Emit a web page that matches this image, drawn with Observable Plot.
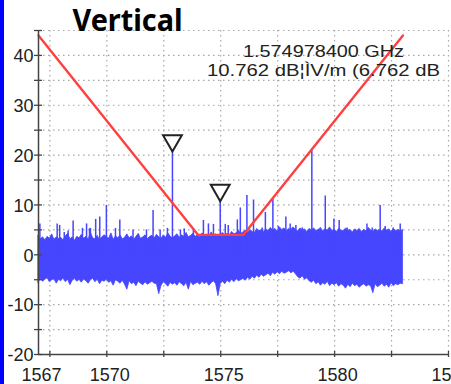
<!DOCTYPE html>
<html><head><meta charset="utf-8">
<script src="https://cdn.jsdelivr.net/npm/d3@7"></script>
<script src="https://cdn.jsdelivr.net/npm/@observablehq/plot@0.6"></script>
<style>
html,body{margin:0;padding:0;background:#fff;}
#wrap{position:relative;width:451px;height:384px;overflow:hidden;}
#strip{position:absolute;left:0;top:0;width:4px;height:384px;background:#0000ff;z-index:2;}
</style></head><body><div id="wrap"><div id="strip"></div></div>
<script>
const title = "Vertical";
const noteLines = ["1.574978400 GHz", "10.762 dB¦ÌV/m (6.762 dB"];

// noise envelope, sampled every 0.1 MHz from 1567.0 to 1583.0
const envStart = 1567, envStep = 0.1;
const upperEnv = [
 3.8,3.1,3.5,2.9,3.6,3.2,4.1,3.0,3.5,3.2,
 3.4,2.9,3.7,4.2,3.1,3.5,2.8,3.6,3.3,4.0,
 3.2,3.6,3.0,4.4,3.3,3.1,3.8,2.9,3.5,3.9,
 3.6,3.2,4.3,3.0,3.7,3.3,3.9,3.1,3.4,4.1,
 3.3,3.7,3.0,3.6,4.2,3.2,3.5,3.9,3.1,3.6,
 3.8,3.3,4.0,3.5,3.2,3.9,3.4,4.3,3.6,3.3,
 3.7,4.1,3.4,3.9,3.6,4.4,3.5,3.8,4.2,3.6,
 3.9,3.5,4.3,3.7,4.0,3.6,4.5,3.8,4.1,3.7,
 4.0,4.4,3.8,4.2,3.9,4.6,4.1,4.3,4.8,4.2,
 4.5,4.9,4.3,5.0,4.6,4.4,5.2,4.7,5.0,4.6,
 5.1,4.8,5.4,4.9,5.2,4.7,5.5,5.0,5.3,4.8,
 5.2,4.9,5.5,5.0,4.7,5.3,4.9,5.1,4.6,5.2,
 4.9,5.3,4.8,5.0,5.4,4.7,5.1,4.9,5.5,4.8,
 5.0,4.6,5.2,4.9,4.7,5.3,4.8,5.0,4.5,5.1,
 4.8,5.2,4.6,5.0,4.7,5.4,4.9,4.6,5.1,4.8,
 5.0,4.7,5.3,4.9,5.1,4.6,5.2,4.8,5.0,4.7,
 5.0];
const lowerEnv = [
 -5.6,-4.8,-5.4,-5.0,-4.7,-5.5,-5.1,-4.9,-5.8,-5.0,
 -5.3,-4.7,-5.5,-5.0,-6.1,-5.2,-4.8,-5.4,-5.0,-5.6,
 -4.9,-5.3,-5.8,-5.1,-4.8,-5.5,-5.0,-5.9,-5.2,-5.4,
 -5.0,-5.6,-5.3,-6.2,-5.1,-5.4,-5.8,-5.2,-6.0,-7.0,
 -5.3,-5.9,-5.6,-6.3,-5.4,-5.8,-6.1,-5.5,-6.0,-5.7,
 -5.4,-5.8,-5.9,-7.9,-6.2,-5.5,-5.9,-6.4,-5.6,-6.0,
 -5.7,-6.2,-5.5,-5.9,-6.3,-5.6,-7.0,-5.4,-6.1,-5.8,
 -5.6,-6.0,-5.4,-5.9,-5.5,-6.2,-5.7,-5.3,-5.9,-8.3,
 -5.8,-5.4,-5.9,-5.2,-5.6,-5.0,-5.5,-4.9,-5.3,-5.1,
 -4.8,-5.2,-4.6,-5.0,-4.4,-4.8,-4.2,-4.6,-4.0,-4.4,
 -4.1,-3.8,-4.3,-3.6,-4.0,-3.5,-3.9,-3.4,-3.8,-3.6,
 -3.3,-3.7,-3.4,-3.9,-4.5,-4.8,-4.3,-5.0,-4.7,-5.3,
 -5.6,-5.2,-5.9,-5.5,-6.2,-5.7,-6.0,-5.4,-6.3,-5.8,
 -6.1,-5.7,-6.4,-5.9,-6.2,-6.8,-6.0,-6.5,-5.8,-6.3,
 -6.0,-6.6,-6.2,-5.9,-6.4,-6.1,-6.3,-7.7,-5.9,-6.5,
 -6.2,-5.8,-6.4,-6.0,-6.6,-5.7,-6.3,-5.9,-6.1,-5.8,
 -5.9];

// narrow spikes above the noise floor
const spikeFreq  = [1567.06,1567.82,1567.93,1568.13,1568.30,1568.52,1568.93,1569.11,1569.24,1569.28,1569.51,1569.69,1569.98,1570.38,1570.57,1571.15,1571.74,1572.03,1572.34,1572.66,1572.88,1573.23,1573.40,1573.80,1574.24,1574.46,1574.68,1574.978,1575.20,1575.33,1575.73,1575.86,1576.15,1576.44,1576.82,1576.96,1577.29,1577.53,1577.86,1578.05,1578.14,1578.30,1578.58,1579.00,1579.37,1579.59,1579.97,1580.20,1580.55,1581.42,1581.65,1582.00,1582.22,1582.57,1582.88];
const spikeLevel = [6.2,6.2,5.9,4.5,4.8,6.8,5.3,6.2,5.2,5.3,7.1,7.6,9.9,5.3,7.0,5.0,5.0,8.9,5.0,5.3,20.7,5.0,5.2,5.3,6.9,6.2,6.1,10.762,6.1,5.9,7.0,9.4,11.9,11.0,5.4,8.5,11.4,5.7,7.6,6.2,5.4,5.9,5.4,21.3,5.0,11.8,7.2,6.9,5.4,6.2,5.4,9.9,5.7,5.4,6.2];

// limit mask
const maskFreq  = [1567, 1574, 1576, 1583];
const maskLevel = [44, 4, 4, 44];

// markers
const markerFreq  = [1572.88, 1574.978];
const markerLevel = [20.7, 10.762];

const xTicks  = [1567.5,1570,1572.5,1575,1577.5,1580,1582.5,1585];
const xLabels = [1567,1570,1575,1580,1585];
const xGrid   = [1567.5,1570,1572.5,1575,1577.5,1580,1582.5,1585];
const yTicks  = [-20,-15,-10,-5,0,5,10,15,20,25,30,35,40,45];
const yLabels = [-20,-10,0,10,20,30,40];
const yGrid   = [-15,-10,-5,0,5,10,15,20,25,30,35,40,45];

const noise = upperEnv.map((u, i) => ({f: envStart + i * envStep, hi: u, lo: lowerEnv[i]}));
const spikes = spikeFreq.map((f, i) => ({f, v: spikeLevel[i]}));
const mask = maskFreq.map((f, i) => ({f, v: maskLevel[i]}));
const markers = markerFreq.map((f, i) => ({f, v: markerLevel[i]}));

const BLUE = "#4646ff", RED = "#ff4040", AX = "#444";

const svg = Plot.plot({
  width: 451, height: 384,
  marginLeft: 38, marginRight: 3, marginTop: 30, marginBottom: 30,
  style: {fontFamily: "Liberation Sans, Arial, sans-serif", background: "white", color: "#222", overflow: "visible"},
  x: {domain: [1567, 1585], axis: null},
  y: {domain: [-20, 45], axis: null},
  marks: [
    Plot.gridY(yGrid, {stroke: "#a8a8a8", strokeOpacity: 1, strokeWidth: 1.2, strokeDasharray: "1.5,3.5"}),
    Plot.gridX(xGrid, {stroke: "#a8a8a8", strokeOpacity: 1, strokeWidth: 1.2, strokeDasharray: "1.5,3.5"}),
    Plot.areaY(noise, {x: "f", y1: "lo", y2: "hi", fill: BLUE, stroke: BLUE, strokeWidth: 0.8}),
    Plot.ruleX(spikes, {x: "f", y1: 0, y2: "v", stroke: BLUE, strokeWidth: 1.5}),
    Plot.line(mask, {x: "f", y: "v", stroke: RED, strokeWidth: 2.4}),
    Plot.dot(markers, {x: "f", y: "v", symbol: "triangle", rotate: 180, r: 7, dy: -10.9, fill: "white", stroke: "#222", strokeWidth: 2}),
    Plot.ruleX([1567], {stroke: AX, strokeWidth: 1.5}),
    Plot.ruleY([-20], {stroke: AX, strokeWidth: 1.5}),
    Plot.axisY(yTicks, {anchor: "left", tickSize: 8, dx: 4, tickFormat: () => "", label: null, stroke: AX, strokeWidth: 1.3}),
    Plot.axisY(yLabels, {anchor: "left", tickSize: 0, tickPadding: 5, dy: 1, fontSize: 18, tickFormat: d => String(d), label: null}),
    Plot.axisX(xTicks, {anchor: "bottom", tickSize: 6, dy: -3, tickFormat: () => "", label: null, stroke: AX, strokeWidth: 1.3}),
    Plot.axisX(xLabels, {anchor: "bottom", tickSize: 0, tickPadding: 14, dx: 3, fontSize: 18, tickFormat: d => String(d), label: null}),
    Plot.text([noteLines[0]], {text: d => d, frameAnchor: "top-left", dx: 285, dy: 26, lineAnchor: "bottom", textAnchor: "middle", fontSize: 16, fill: "#222", className: "note1"}),
    Plot.text([noteLines[1]], {text: d => d, frameAnchor: "top-left", dx: 285, dy: 45, lineAnchor: "bottom", textAnchor: "middle", fontSize: 16, fill: "#222", className: "note2"}),
    Plot.text([title], {text: d => d, frameAnchor: "top-left", dx: 89, dy: 0, lineAnchor: "bottom", textAnchor: "middle", fontSize: 30, fontWeight: "bold", fontFamily: "Noto Sans", fill: "#000", className: "ttl"})
  ]
});
document.getElementById("wrap").appendChild(svg);
const fit = (cls, w) => d3.select(svg).selectAll("." + cls + " text").attr("textLength", w).attr("lengthAdjust", "spacingAndGlyphs");
fit("note1", 161);
fit("note2", 233);
fit("ttl", 110);
</script></body></html>
